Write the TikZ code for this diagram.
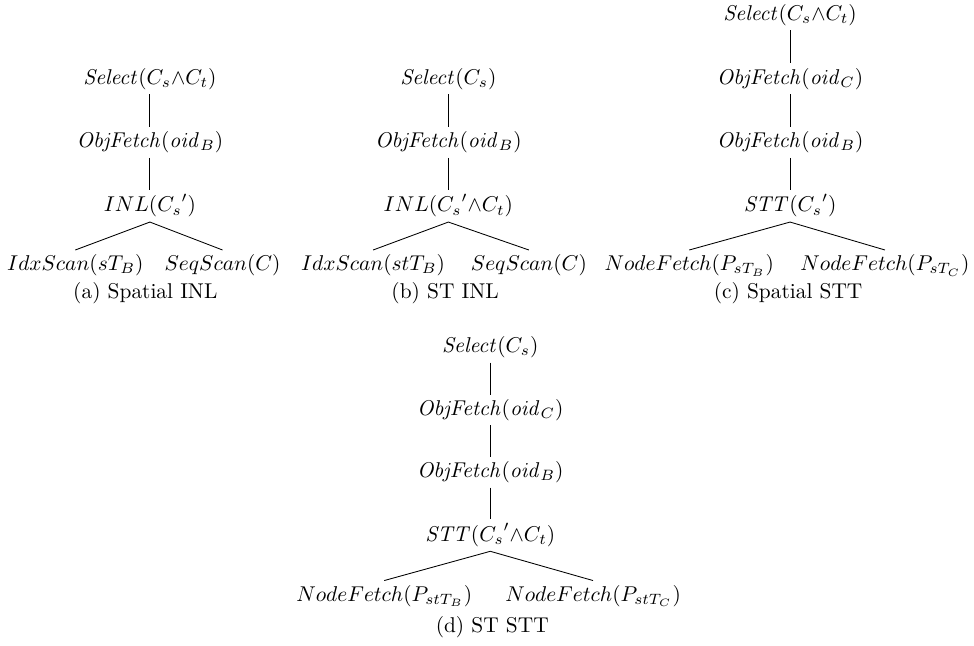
\documentclass[tikz,border=0pt]{standalone}
\usepackage{amsmath,amssymb}

\begin{document}
\begin{tikzpicture}[x=1.075cm,y=1.075cm,
  opnode/.style={inner sep=2pt},
  subcap/.style={inner sep=2pt}]
\useasboundingbox(0,0)rectangle(14.88,9.855);
% (a) spatial INL
\node[opnode](a1)at(2.29,8.65){$\mathit{Select}(C_s{\wedge}C_t)$};
\node[opnode](a2)at(2.29,7.68){$\mathit{ObjFetch}(\mathit{oid}_B)$};
\node[opnode](a3)at(2.29,6.71){$INL({C_s}')$};
\node[opnode](a4)at(1.15,5.80){$IdxScan(sT_B)$};
\node[opnode](a5)at(3.40,5.80){$SeqScan(C)$};
\node[subcap](capa)at(2.22,5.37){(a) Spatial INL};
% (b) ST INL
\node[opnode](b1)at(6.85,8.65){$\mathit{Select}(C_s)$};
\node[opnode](b2)at(6.85,7.68){$\mathit{ObjFetch}(\mathit{oid}_B)$};
\node[opnode](b3)at(6.85,6.71){$INL({C_s}'{\wedge}C_t)$};
\node[opnode](b4)at(5.70,5.80){$IdxScan(stT_B)$};
\node[opnode](b5)at(8.08,5.80){$SeqScan(C)$};
\node[subcap](capb)at(6.80,5.37){(b) ST INL};
% (c) spatial STT
\node[opnode](c1)at(12.07,9.63){$\mathit{Select}(C_s{\wedge}C_t)$};
\node[opnode](c2)at(12.07,8.65){$\mathit{ObjFetch}(\mathit{oid}_C)$};
\node[opnode](c3)at(12.07,7.68){$\mathit{ObjFetch}(\mathit{oid}_B)$};
\node[opnode](c4)at(12.07,6.71){$\mathit{STT}({C_s}')$};
\node[opnode](c5)at(10.53,5.80){$NodeFetch(P_{sT_B})$};
\node[opnode](c6)at(13.52,5.80){$NodeFetch(P_{sT_C})$};
\node[subcap](capc)at(12.04,5.37){(c) Spatial STT};
% (d) ST STT
\node[opnode](d1)at(7.49,4.55){$\mathit{Select}(C_s)$};
\node[opnode](d2)at(7.49,3.59){$\mathit{ObjFetch}(\mathit{oid}_C)$};
\node[opnode](d3)at(7.49,2.64){$\mathit{ObjFetch}(\mathit{oid}_B)$};
\node[opnode](d4)at(7.49,1.68){$\mathit{STT}({C_s}'{\wedge}C_t)$};
\node[opnode](d5)at(5.87,0.75){$NodeFetch(P_{stT_B})$};
\node[opnode](d6)at(9.06,0.75){$NodeFetch(P_{stT_C})$};
\node[subcap](capd)at(7.52,0.28){(d) ST STT};
% edges
\foreach \p/\c in {a1/a2,a2/a3,a3/a4,a3/a5,b1/b2,b2/b3,b3/b4,b3/b5,
  c1/c2,c2/c3,c3/c4,c4/c5,c4/c6,d1/d2,d2/d3,d3/d4,d4/d5,d4/d6}
  \draw(\p.south)--(\c.north);
\end{tikzpicture}
\end{document}
